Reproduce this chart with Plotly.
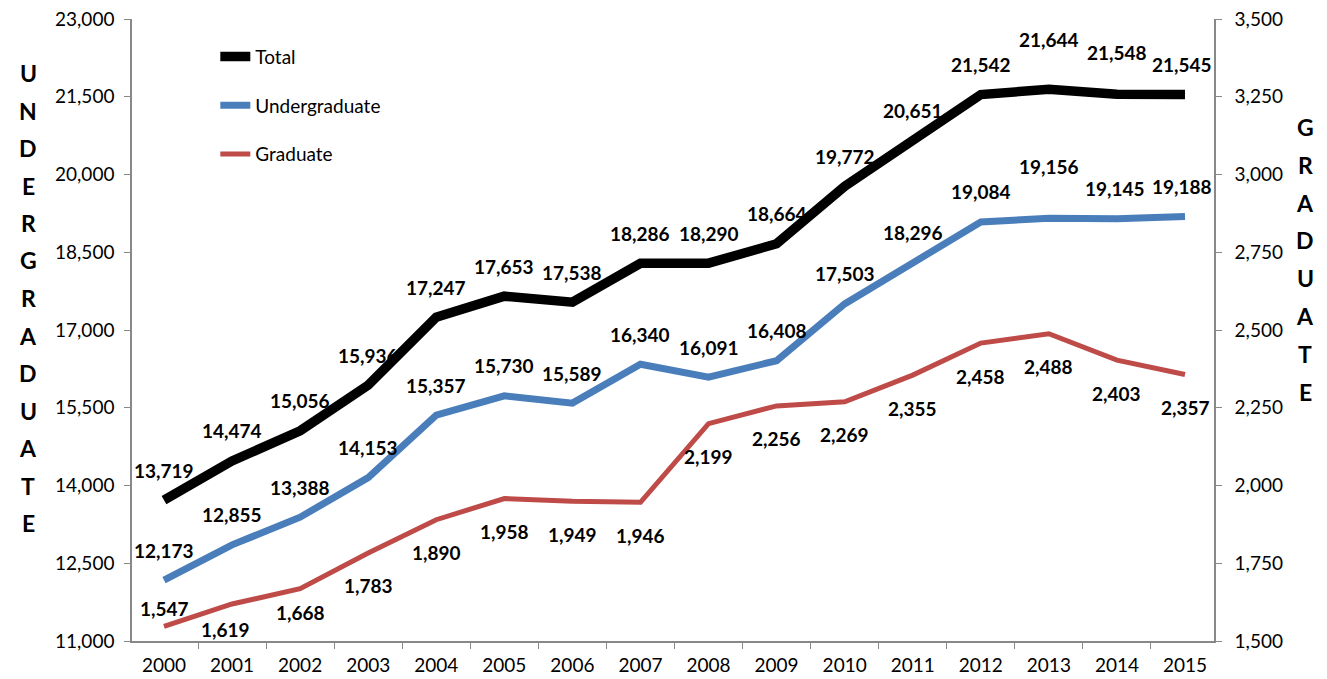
import plotly.graph_objects as go

years = [str(y) for y in range(2000, 2016)]
total = [13719, 14474, 15056, 15936, 17247, 17653, 17538, 18286,
         18290, 18664, 19772, 20651, 21542, 21644, 21548, 21545]
undergrad = [12173, 12855, 13388, 14153, 15357, 15730, 15589, 16340,
             16091, 16408, 17503, 18296, 19084, 19156, 19145, 19188]
graduate = [1547, 1619, 1668, 1783, 1890, 1958, 1949, 1946,
            2199, 2256, 2269, 2355, 2458, 2488, 2403, 2357]

FONT = "Lato"

# label nudges in px (up is positive), most labels sit 30px above / 33px below
total_shift = [30] * 16
total_shift[13] = 50
total_shift[14] = 42
under_shift = [30] * 16
under_shift[13] = 52
grad_shift = [-33] * 16
grad_shift[0] = 18
grad_shift[1] = -26
grad_shift[2] = -24
xshift = {("t", 15): -3, ("u", 14): -2, ("u", 15): -3, ("g", 1): -7}

fig = go.Figure()
fig.add_trace(go.Scatter(x=years, y=total, name="Total", mode="lines",
                         line=dict(color="#000000", width=9.5), legendgroup="t"))
fig.add_trace(go.Scatter(x=years, y=undergrad, name="Undergraduate", mode="lines",
                         line=dict(color="#4A7EBB", width=7), legendgroup="u"))
fig.add_trace(go.Scatter(x=years, y=graduate, name="Graduate", mode="lines",
                         line=dict(color="#BE4B48", width=5), legendgroup="g", yaxis="y2"))

annotations = []
for key, vals, shifts, yref in [("t", total, total_shift, "y"),
                                ("u", undergrad, under_shift, "y"),
                                ("g", graduate, grad_shift, "y2")]:
    for i, v in enumerate(vals):
        # category axis: annotation x is the category index
        annotations.append(dict(
            x=i, y=v, xref="x", yref=yref, text=f"<b>{v:,}</b>", showarrow=False,
            yshift=shifts[i], xshift=xshift.get((key, i), 0),
            font=dict(family=FONT, size=19, color="black"),
        ))

# stacked axis titles (positions measured in screen px, plot area 132..1214 x 19..641)
top, bottom = 19, 641


def py(px):
    return (bottom - px) / (bottom - top)


for i, ch in enumerate("UNDERGRADUATE"):
    annotations.append(dict(x=(28 - 132) / 1082, y=py(73 + i * 37.5), xref="paper", yref="paper",
                            text=f"<b>{ch}</b>", showarrow=False, xanchor="center", yanchor="middle",
                            font=dict(family=FONT, size=23, color="black")))
for i, ch in enumerate("GRADUATE"):
    annotations.append(dict(x=(1305 - 132) / 1082, y=py(127 + i * 37.8), xref="paper", yref="paper",
                            text=f"<b>{ch}</b>", showarrow=False, xanchor="center", yanchor="middle",
                            font=dict(family=FONT, size=23, color="black")))

axis_common = dict(showgrid=False, zeroline=False, showline=True, linecolor="#888888",
                   linewidth=1.5, ticks="outside", ticklen=6, tickcolor="#888888",
                   automargin=False, tickfont=dict(family=FONT, size=19, color="black"))

# page body has an 8px margin, so the figure is sized/offset to compensate
fig.update_layout(
    width=1319, height=671,
    margin=dict(l=124, r=113, t=11, b=38),
    paper_bgcolor="white", plot_bgcolor="white",
    xaxis=dict(type="category", tickson="boundaries", tickangle=0, ticklabelstandoff=6,
               **axis_common),
    yaxis=dict(range=[11000, 23000], tick0=11000, dtick=1500, tickformat=",",
               ticklabelstandoff=6, ticklabeloverflow="allow", **axis_common),
    yaxis2=dict(range=[1500, 3500], tick0=1500, dtick=250, tickformat=",", overlaying="y",
                side="right", ticklabelstandoff=9, ticklabeloverflow="allow", **axis_common),
    legend=dict(x=0.077, y=0.97, xanchor="left", yanchor="top", tracegroupgap=21,
                font=dict(family=FONT, size=19, color="black"), bgcolor="rgba(0,0,0,0)"),
    annotations=annotations,
)

fig.write_html("out.html")
